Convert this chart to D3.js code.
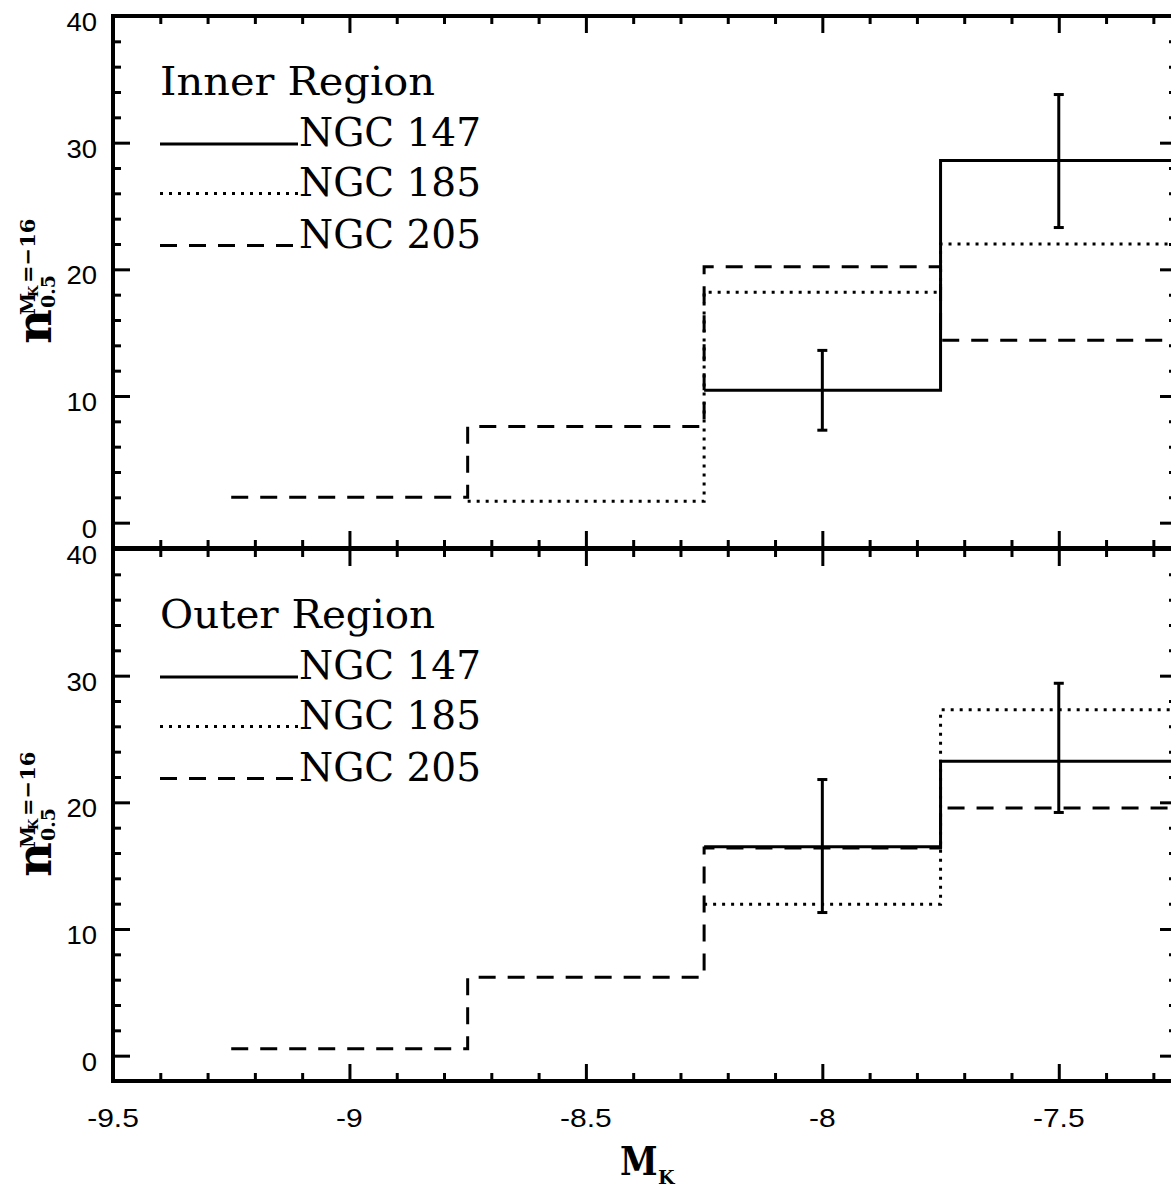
<!DOCTYPE html>
<html>
<head>
<meta charset="utf-8">
<script src="https://cdn.jsdelivr.net/npm/d3@7"></script>
<style>
  html, body { margin: 0; padding: 0; background: #fff; }
  svg { display: block; }
</style>
</head>
<body>
<svg id="chart" width="1171" height="1189"></svg>
<script>
// Luminosity-function bins in M_K (bin width 0.5 mag)
const binCenters = [-9.0, -8.5, -8.0, -7.5];
const binWidth = 0.5;

// Inner region: counts per 0.5 mag, normalised to M_K = -16
const inner147 = [null, null, 10.45, 28.6];
const inner185 = [null, 1.7, 18.2, 22.0];
const inner205 = [2.0, 7.6, 20.2, 14.4];
const inner147Lo = [null, null, 7.3, 23.3];
const inner147Hi = [null, null, 13.6, 33.8];

// Outer region
const outer147 = [null, null, 16.5, 23.25];
const outer185 = [null, null, 11.95, 27.3];
const outer205 = [0.55, 6.2, 16.4, 19.55];
const outer147Lo = [null, null, 11.3, 19.2];
const outer147Hi = [null, null, 21.8, 29.4];

// Axis ticks and labels
const xTickValues = [-9.5, -9, -8.5, -8, -7.5];
const xTickLabels = ["-9.5", "-9", "-8.5", "-8", "-7.5"];
const yTickValues = [0, 10, 20, 30, 40];
const yTickLabels = ["0", "10", "20", "30", "40"];
const galaxies = ["NGC 147", "NGC 185", "NGC 205"];
const regionTitles = ["Inner Region", "Outer Region"];

const svg = d3.select("#chart");
svg.append("rect").attr("width", 1171).attr("height", 1189).attr("fill", "#fff");

const left = 113, right = 1177;
const panelTops = [16, 549];
const panelH = 532;

const x = d3.scaleLinear().domain([-9.5, -7.25]).range([left, right]);

const SERIF = "'DejaVu Serif', 'Liberation Serif', serif";
const SANS = "'Liberation Sans', Arial, Helvetica, sans-serif";

// line styles: solid for NGC 147, dotted for NGC 185, dashed for NGC 205
const styles = [null, "3,6", "17,12"];

const minorX = d3.range(0, 23).map(i => -9.5 + i * 0.1).filter((v, i) => i % 5 !== 0);
const minorY = d3.range(2, 40, 2).filter(v => v % 10 !== 0);

function steps(vals) {
  const pts = [];
  vals.forEach((v, k) => {
    if (v == null) return;
    pts.push([binCenters[k] - binWidth / 2, v], [binCenters[k] + binWidth / 2, v]);
  });
  return pts;
}

const panels = [
  { title: regionTitles[0], series: [inner147, inner185, inner205], lo: inner147Lo, hi: inner147Hi },
  { title: regionTitles[1], series: [outer147, outer185, outer205], lo: outer147Lo, hi: outer147Hi }
];

function styleTicks(sel, w) {
  sel.select(".domain").remove();
  sel.selectAll(".tick line").attr("stroke", "#000").attr("stroke-width", w);
}

panels.forEach((p, i) => {
  const top = panelTops[i], bottom = top + panelH;
  const y = d3.scaleLinear().domain([-2, 40]).range([bottom, top]);
  const g = svg.append("g");

  const line = d3.line().x(d => x(d[0])).y(d => y(d[1]));

  // histograms, dashed first so the solid one sits on top
  [2, 1, 0].forEach(s => {
    g.append("path")
      .attr("d", line(steps(p.series[s])))
      .attr("fill", "none")
      .attr("stroke", "#000")
      .attr("stroke-width", 3)
      .attr("stroke-dasharray", styles[s])
      .attr("stroke-linejoin", "miter");
  });

  // error bars on NGC 147
  binCenters.forEach((c, k) => {
    if (p.lo[k] == null) return;
    const cx = x(c);
    g.append("line").attr("x1", cx).attr("x2", cx)
      .attr("y1", y(p.lo[k])).attr("y2", y(p.hi[k]))
      .attr("stroke", "#000").attr("stroke-width", 3);
    [p.lo[k], p.hi[k]].forEach(v => {
      g.append("line").attr("x1", cx - 5).attr("x2", cx + 5)
        .attr("y1", y(v)).attr("y2", y(v))
        .attr("stroke", "#000").attr("stroke-width", 3);
    });
  });

  // ticks on all four sides, pointing inward
  const addAxis = (axis, tr, w) => {
    g.append("g").attr("transform", tr).call(axis).call(s => styleTicks(s, w));
  };
  addAxis(d3.axisTop(x).tickValues(minorX).tickSize(8).tickFormat(""), `translate(0,${bottom})`, 3);
  addAxis(d3.axisTop(x).tickValues(xTickValues).tickSize(17).tickFormat(""), `translate(0,${bottom})`, 3);
  addAxis(d3.axisBottom(x).tickValues(minorX).tickSize(8).tickFormat(""), `translate(0,${top})`, 3);
  addAxis(d3.axisBottom(x).tickValues(xTickValues).tickSize(17).tickFormat(""), `translate(0,${top})`, 3);
  addAxis(d3.axisRight(y).tickValues(minorY).tickSize(8).tickFormat(""), `translate(${left},0)`, 3);
  addAxis(d3.axisRight(y).tickValues(yTickValues).tickSize(17).tickFormat(""), `translate(${left},0)`, 3);
  addAxis(d3.axisLeft(y).tickValues(minorY).tickSize(8).tickFormat(""), `translate(${right},0)`, 3);
  addAxis(d3.axisLeft(y).tickValues(yTickValues).tickSize(17).tickFormat(""), `translate(${right},0)`, 3);

  // frame
  g.append("rect").attr("x", left).attr("y", top)
    .attr("width", right - left).attr("height", panelH)
    .attr("fill", "none").attr("stroke", "#000").attr("stroke-width", 4);

  // y tick labels
  yTickValues.forEach((v, k) => {
    g.append("text")
      .attr("transform", `translate(97,${y(v) + 15}) scale(1.1,1)`)
      .attr("text-anchor", "end")
      .attr("font-family", SANS).attr("font-size", 25)
      .text(yTickLabels[k]);
  });

  // legend
  g.append("text").attr("x", 160).attr("y", top + 79)
    .attr("font-family", SERIF).attr("font-size", 40)
    .attr("textLength", 275).attr("lengthAdjust", "spacingAndGlyphs")
    .text(p.title);
  const legY = [128, 177.5, 229.5];
  galaxies.forEach((name, s) => {
    g.append("line").attr("x1", 160).attr("x2", 298)
      .attr("y1", top + legY[s]).attr("y2", top + legY[s])
      .attr("stroke", "#000").attr("stroke-width", 3)
      .attr("stroke-dasharray", styles[s]);
    g.append("text").attr("x", 299).attr("y", top + legY[s] + 2)
      .attr("font-family", SERIF).attr("font-size", 40)
      .attr("textLength", 182).attr("lengthAdjust", "spacingAndGlyphs")
      .text(name);
  });

  // y axis title  n_{0.5}^{M_K=-16}
  const cy = (top + bottom) / 2;
  const t = g.append("g")
    .attr("transform", `translate(51,${cy + 62}) rotate(-90)`)
    .attr("font-family", SERIF).attr("font-weight", "bold");
  t.append("text").attr("x", 0).attr("y", 0).attr("font-size", 48).text("n");
  t.append("text").attr("x", 29).attr("y", -16).attr("font-size", 20).text("M");
  t.append("text").attr("x", 47).attr("y", -13).attr("font-size", 13).text("K");
  t.append("text").attr("x", 61).attr("y", -16).attr("font-size", 21).text("=\u221216");
  t.append("text").attr("x", 36).attr("y", 4).attr("font-size", 19).text("0.5");
});

// x tick labels under the lower panel
xTickValues.forEach((v, k) => {
  svg.append("text")
    .attr("transform", `translate(${x(v)},1127) scale(1.2,1)`)
    .attr("text-anchor", "middle")
    .attr("font-family", SANS).attr("font-size", 25)
    .text(xTickLabels[k]);
});

// x axis title M_K
svg.append("text")
  .attr("transform", "translate(620,1175) scale(0.85,1)")
  .attr("font-family", SERIF).attr("font-weight", "bold").attr("font-size", 40)
  .text("M");
svg.append("text")
  .attr("x", 658).attr("y", 1184)
  .attr("font-family", SERIF).attr("font-weight", "bold").attr("font-size", 19)
  .text("K");
</script>
</body>
</html>
